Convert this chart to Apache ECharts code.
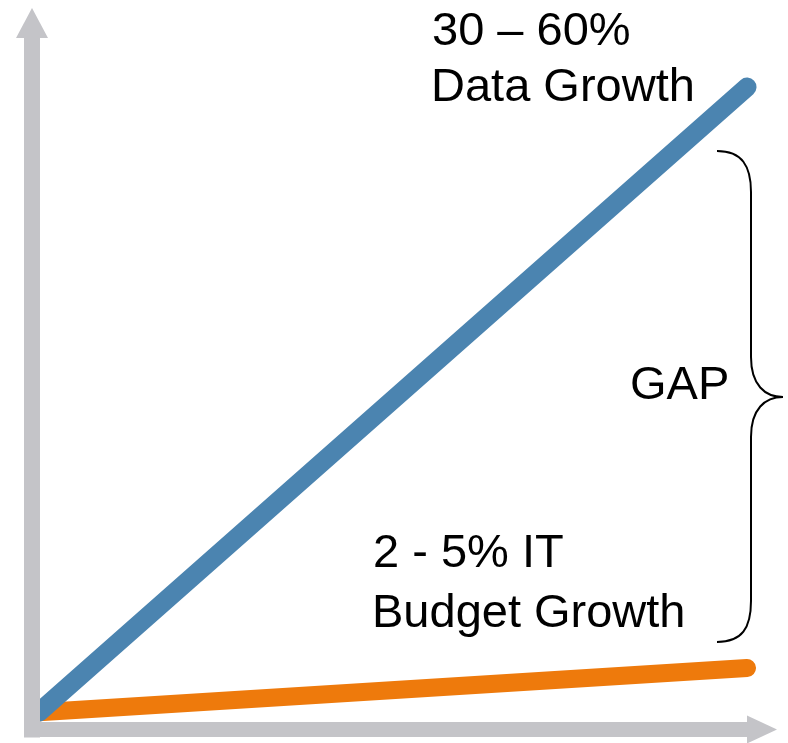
<!DOCTYPE html>
<html>
<head>
<meta charset="utf-8">
<title>Data growth vs IT budget growth</title>
<script src="https://cdn.jsdelivr.net/npm/echarts@6/dist/echarts.min.js"></script>
<style>
  html, body { margin: 0; padding: 0; background: #fff; }
  #chart { width: 788px; height: 743px; }
</style>
</head>
<body>
<div id="chart"></div>
<script>
  // time runs left to right (0..100), growth goes up (0..100)
  const period = [1, 100];
  const dataGrowth = [2.5, 92.9];
  const budgetGrowth = [2.5, 8.9];
  const dataLabel = ['30 – 60%', 'Data Growth'];
  const budgetLabel = ['2 - 5% IT', 'Budget Growth'];
  const gapLabel = 'GAP';

  const axisGray = '#c4c4c8';
  const font = '"Liberation Sans", Arial, sans-serif';

  const chart = echarts.init(document.getElementById('chart'));

  // axes sit on top of the line starts
  const axisProps = {
    type: 'value',
    min: 0,
    max: 100,
    z: 6,
    axisLabel: { show: false },
    axisTick: { show: false },
    splitLine: { show: false },
  };

  const text = (str, x, y) => ({
    type: 'text',
    x: x,
    y: y,
    style: {
      text: str,
      font: '47px ' + font,
      fill: '#000',
      textAlign: 'left',
      textVerticalAlign: 'middle',
    },
  });

  const braceStyle = { fill: 'none', stroke: '#000', lineWidth: 2 };
  const curve = (x1, y1, cpx1, cpy1, cpx2, cpy2, x2, y2) => ({
    type: 'bezierCurve',
    shape: { x1, y1, cpx1, cpy1, cpx2, cpy2, x2, y2 },
    style: braceStyle,
  });
  const seg = (x1, y1, x2, y2) => ({
    type: 'line',
    shape: { x1, y1, x2, y2 },
    style: braceStyle,
  });

  chart.setOption({
    animation: false,
    grid: { left: 32, right: 41, top: 38, bottom: 13.5 },
    xAxis: {
      ...axisProps,
      axisLine: {
        show: true,
        symbol: ['none', 'triangle'],
        symbolSize: [28, 30],
        symbolOffset: [0, 15],
        lineStyle: { color: axisGray, width: 15, cap: 'square' },
      },
    },
    yAxis: {
      ...axisProps,
      axisLine: {
        show: true,
        symbol: ['none', 'triangle'],
        symbolSize: [32, 30],
        symbolOffset: [0, 15],
        lineStyle: { color: axisGray, width: 16, cap: 'square' },
      },
    },
    series: [
      {
        name: 'IT Budget Growth',
        type: 'line',
        z: 2,
        clip: false,
        showSymbol: false,
        data: period.map((x, i) => [x, budgetGrowth[i]]),
        lineStyle: { color: '#ee7a0c', width: 18, cap: 'round' },
      },
      {
        name: 'Data Growth',
        type: 'line',
        z: 3,
        clip: false,
        showSymbol: false,
        data: period.map((x, i) => [x, dataGrowth[i]]),
        lineStyle: { color: '#4b84b0', width: 19, cap: 'round' },
      },
    ],
    graphic: [
      text(dataLabel[0], 432, 32),
      text(dataLabel[1], 431, 88),
      text(gapLabel, 630, 386),
      text(budgetLabel[0], 373, 554),
      text(budgetLabel[1], 372, 614),
      // curly brace for the gap
      curve(717, 151, 742, 151, 751, 166, 751, 192),
      seg(751, 192, 751, 357),
      curve(751, 357, 751, 385, 765, 397, 783, 397),
      curve(783, 397, 765, 397, 751, 409, 751, 437),
      seg(751, 437, 751, 601),
      curve(751, 601, 751, 628, 742, 642, 717, 642),
    ],
  });
</script>
</body>
</html>
